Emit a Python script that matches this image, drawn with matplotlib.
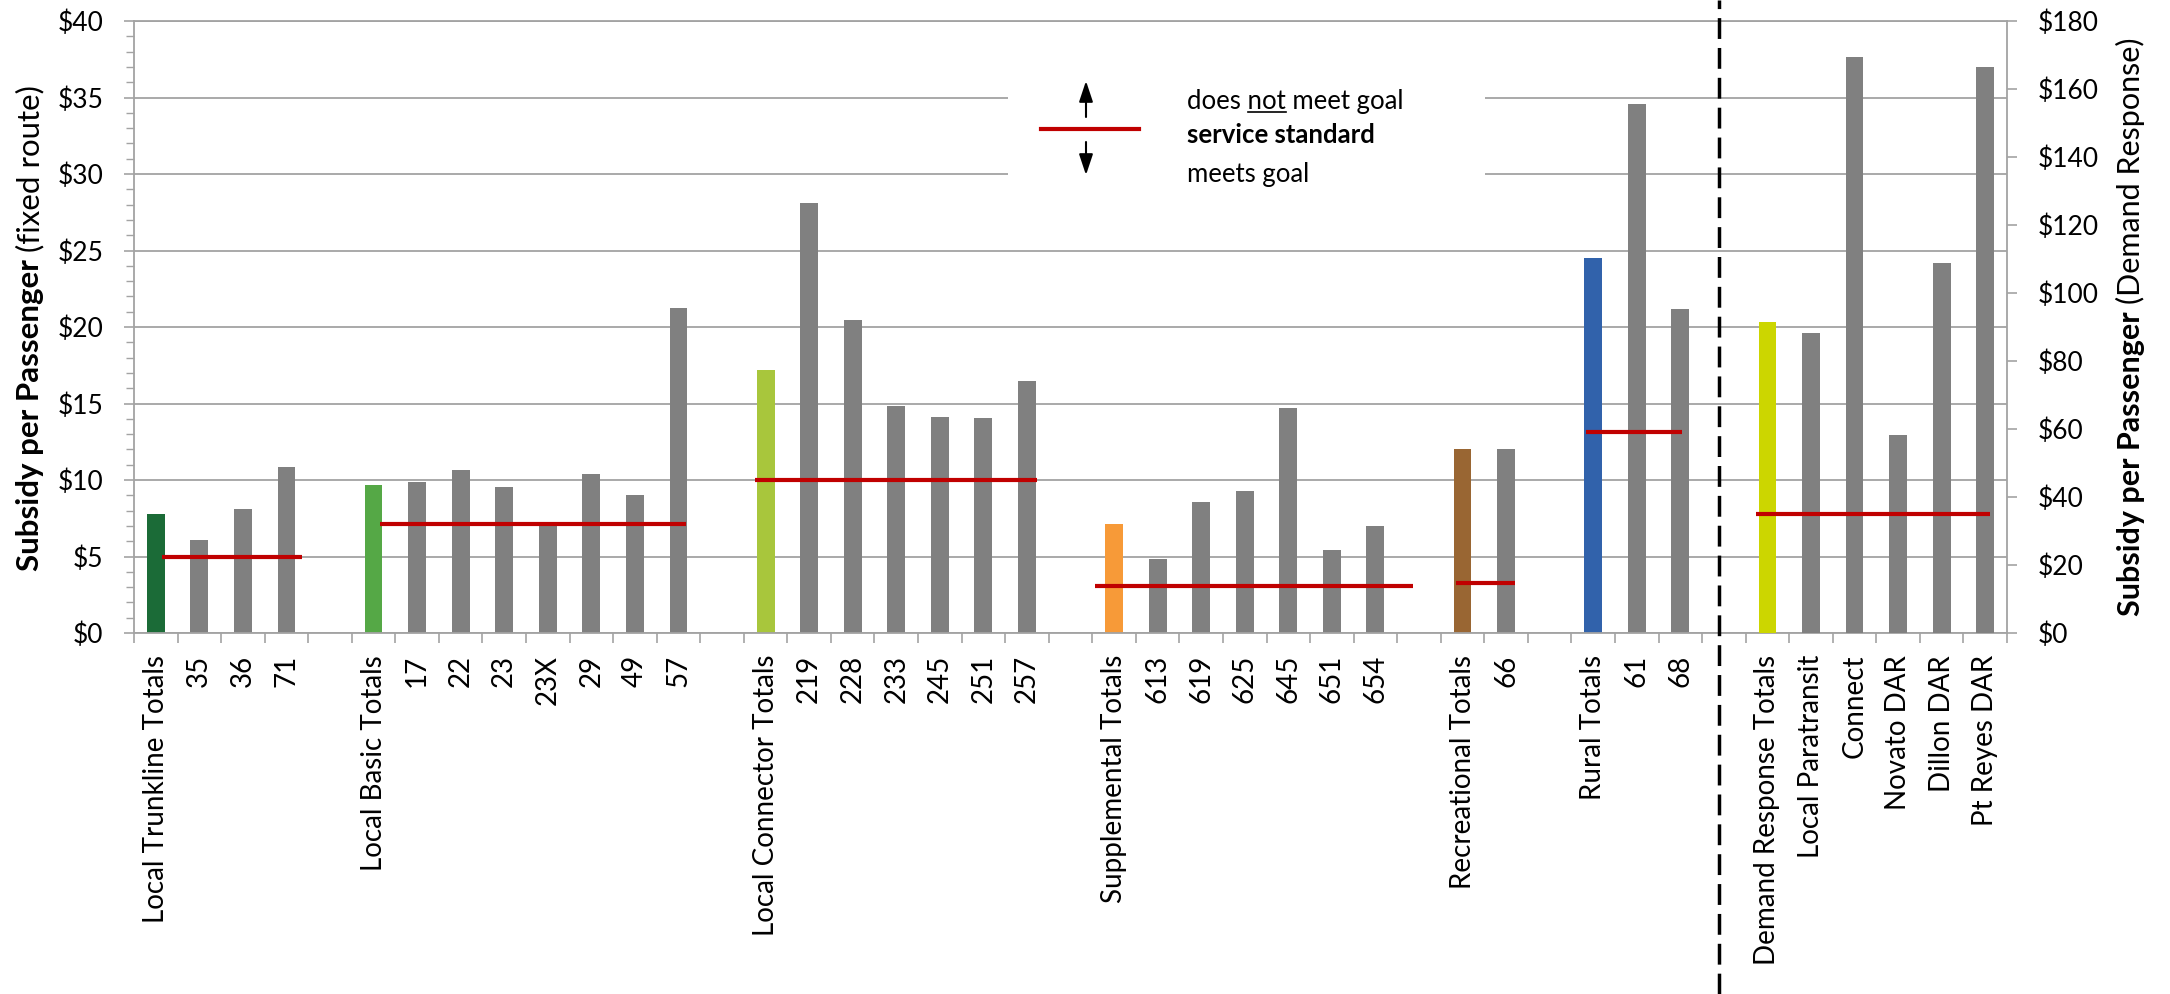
import numpy as np
import matplotlib
matplotlib.use("Agg")
import matplotlib.pyplot as plt
from matplotlib.lines import Line2D
from matplotlib.patches import Rectangle, FancyArrowPatch
from matplotlib.ticker import NullFormatter
from matplotlib.transforms import blended_transform_factory

plt.rcParams["font.family"] = ["Lato", "DejaVu Sans"]

# ---- fixed-route service types (left axis) --------------------------------
group_names = ["Local Trunkline Totals", "Local Basic Totals", "Local Connector Totals",
               "Supplemental Totals", "Recreational Totals", "Rural Totals"]
group_totals = [7.8, 9.7, 17.2, 7.1, 12.0, 24.5]
group_routes = [
    ["35", "36", "71"],
    ["17", "22", "23", "23X", "29", "49", "57"],
    ["219", "228", "233", "245", "251", "257"],
    ["613", "619", "625", "645", "651", "654"],
    ["66"],
    ["61", "68"],
]
route_values = [
    [6.05, 8.1, 10.85],
    [9.9, 10.65, 9.55, 7.15, 10.4, 9.0, 21.25],
    [28.1, 20.45, 14.85, 14.1, 14.05, 16.5],
    [4.85, 8.55, 9.3, 14.7, 5.4, 7.0],
    [12.0],
    [34.55, 21.15],
]
group_standards = [4.95, 7.1, 10.0, 3.05, 3.25, 13.15]

# ---- demand response (right axis) ------------------------------------------
dr_labels = ["Demand Response Totals", "Local Paratransit", "Connect",
             "Novato DAR", "Dillon DAR", "Pt Reyes DAR"]
dr_values = [91.5, 88.3, 169.5, 58.3, 108.7, 166.6]
dr_standard = 35.0

left_ticks = list(range(0, 41, 5))
right_ticks = list(range(0, 181, 20))

# ---- styling ---------------------------------------------------------------
total_colors = ["#1B6B37", "#55A846", "#A8C63C", "#F79A38", "#996633", "#3162AB"]
dr_total_color = "#CCD600"
ROUTE = "#808080"
GRID = "#A3A3A3"
RED = "#C00000"
BAR_W = 0.41
# how far each standard line reaches past its group's first / last bar
std_spans = [(0.14, 0.36), (0.15, 0.17), (-0.24, 0.23), (-0.44, 0.86),
             (-0.15, 0.20), (-0.17, 0.04)]
dr_span = (-0.26, 0.10)

W, H = 2170, 994
fig = plt.figure(figsize=(W / 100, H / 100), dpi=100)


def fx(px):
    return px / W


def fy(py):
    return 1 - py / H


ax = fig.add_axes([fx(134), fy(633), fx(2007) - fx(134), fy(21) - fy(633)])
ax2 = ax.twinx()

# lay the categories out in slots, one empty slot between groups
positions, labels = [], []
bar_x, bar_h, bar_c = [], [], []
segments = []
slot = 0
for name, total, routes, vals, std, color, span in zip(
        group_names, group_totals, group_routes, route_values,
        group_standards, total_colors, std_spans):
    first = slot
    positions.append(slot); labels.append(name)
    bar_x.append(slot); bar_h.append(total); bar_c.append(color)
    slot += 1
    for r, v in zip(routes, vals):
        positions.append(slot); labels.append(r)
        bar_x.append(slot); bar_h.append(v); bar_c.append(ROUTE)
        slot += 1
    segments.append((first + span[0], slot - 1 + span[1], std))
    slot += 1
divider = slot - 1

dr_x, dr_c = [], []
dr_first = slot
for i, lab in enumerate(dr_labels):
    positions.append(slot); labels.append(lab)
    dr_x.append(slot); dr_c.append(dr_total_color if i == 0 else ROUTE)
    slot += 1
n_slots = slot

ax.bar(bar_x, bar_h, width=BAR_W, color=bar_c, zorder=2)
for x0, x1, std in segments:
    ax.hlines(std, x0, x1, color=RED, lw=3, zorder=3)
ax2.bar(dr_x, dr_values, width=BAR_W, color=dr_c, zorder=2)
ax2.hlines(dr_standard, dr_first + dr_span[0], slot - 1 + dr_span[1],
           color=RED, lw=3, zorder=3)

# axes, ticks, grid
ax.set_xlim(-0.5, n_slots - 0.5)
ax.set_ylim(0, 40)
ax2.set_ylim(0, 180)
ax.set_axisbelow(True)
ax.yaxis.grid(True, which="major", color=GRID, lw=1.3)

ax.set_xticks(np.arange(-0.5, n_slots, 1.0))
ax.xaxis.set_major_formatter(NullFormatter())
ax.set_xticks(positions, labels, minor=True)
ax.tick_params(axis="x", which="major", length=7.2, width=1.2, color=GRID)
ax.tick_params(axis="x", which="minor", length=0, pad=15.8, labelsize=20,
               labelrotation=90)

ax.set_yticks(left_ticks, [f"${v}" for v in left_ticks])
ax.set_yticks(np.arange(0, 41, 1), minor=True)
ax.tick_params(axis="y", which="major", length=7.2, width=1.2, color=GRID,
               pad=15, labelsize=19)
ax.tick_params(axis="y", which="minor", length=5.5, width=1.0, color=GRID)

ax2.set_yticks(right_ticks, [f"${v}" for v in right_ticks])
ax2.tick_params(axis="y", length=7.2, width=1.2, color=GRID, pad=15, labelsize=19)

for s in ("left", "bottom", "top"):
    ax.spines[s].set_color(GRID)
    ax.spines[s].set_linewidth(1.3)
ax.spines["right"].set_visible(False)
for s in ("left", "bottom", "top"):
    ax2.spines[s].set_visible(False)
ax2.spines["right"].set_color(GRID)
ax2.spines["right"].set_linewidth(1.3)

# dashed divider between fixed route and demand response
div_tr = blended_transform_factory(ax.transData, fig.transFigure)
fig.add_artist(Line2D([divider - 0.12, divider - 0.12], [0, 1], transform=div_tr,
                      color="black", lw=2.5, dashes=(6, 2.6)))

renderer = fig.canvas.get_renderer()


def text_width(s, **kw):
    t = fig.text(0, 0, s, **kw)
    w = t.get_window_extent(renderer).width
    t.remove()
    return w


def axis_title(x_base, y_center, bold, regular, size):
    wb = text_width(bold, fontsize=size, fontweight="bold")
    sp = text_width("a b", fontsize=size) - text_width("ab", fontsize=size)
    wr = text_width(regular, fontsize=size)
    y0 = y_center + (wb + sp + wr) / 2   # image pixels, text runs upward
    fig.text(fx(x_base), fy(y0), bold, rotation=90, rotation_mode="anchor",
             ha="left", va="baseline", fontsize=size, fontweight="bold")
    fig.text(fx(x_base), fy(y0 - wb - sp), regular, rotation=90,
             rotation_mode="anchor", ha="left", va="baseline", fontsize=size)


axis_title(39, 328, "Subsidy per Passenger", "(fixed route)", 22.5)
axis_title(2140, 327, "Subsidy per Passenger", "(Demand Response)", 22)

# service-standard key
ax.add_patch(Rectangle((19.56, 28.6), 10.96, 10.5, facecolor="white",
                       edgecolor="none", zorder=1))
fig.add_artist(Line2D([fx(1041), fx(1139)], [fy(129), fy(129)], color=RED, lw=3))
arrow_style = "-|>,head_length=0.9,head_width=0.3"
fig.add_artist(FancyArrowPatch((fx(1086), fy(117)), (fx(1086), fy(81)),
                               transform=fig.transFigure, arrowstyle=arrow_style,
                               mutation_scale=14, lw=1.5, color="black",
                               shrinkA=0, shrinkB=0))
fig.add_artist(FancyArrowPatch((fx(1086), fy(142)), (fx(1086), fy(175)),
                               transform=fig.transFigure, arrowstyle=arrow_style,
                               mutation_scale=14, lw=1.5, color="black",
                               shrinkA=0, shrinkB=0))
KEY_SIZE = 18.5
key_x = 1187
fig.text(fx(key_x), fy(109), "does not meet goal", fontsize=KEY_SIZE,
         ha="left", va="baseline")
w_pre = text_width("does not", fontsize=KEY_SIZE)
w_not = text_width("not", fontsize=KEY_SIZE)
fig.add_artist(Line2D([fx(key_x + w_pre - w_not), fx(key_x + w_pre)],
                      [fy(112), fy(112)], color="black", lw=1.2))
fig.text(fx(key_x), fy(143), "service standard", fontsize=KEY_SIZE,
         fontweight="bold", ha="left", va="baseline")
fig.text(fx(key_x), fy(182), "meets goal", fontsize=KEY_SIZE,
         ha="left", va="baseline")

fig.savefig("out.png", dpi=100)
